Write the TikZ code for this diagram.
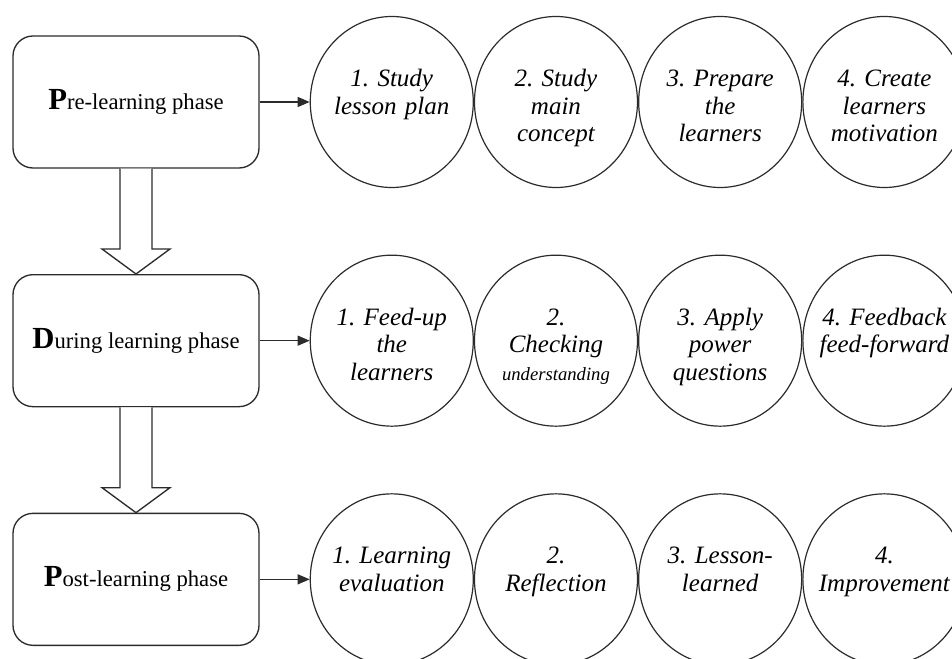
\documentclass[tikz,border=0pt]{standalone}
\usepackage{fontspec}
\setmainfont{Liberation Serif}
\usepackage{tikz}
\usetikzlibrary{arrows.meta,positioning,shapes.geometric,calc}
\definecolor{edge}{HTML}{2B2B2B}
\frenchspacing

% big bold first letter of a phase name
\newcommand{\phasehead}[1]{{\fontsize{23}{23}\selectfont\bfseries #1}}

\begin{document}
\begin{tikzpicture}[
    node distance=79pt and 37.5pt,
    phase/.style={draw=edge,line width=1pt,rounded corners=15pt,align=center,minimum height=99pt,minimum width=184.5pt,font=\fontsize{17}{20}\selectfont},
    stage/.style={draw=edge,line width=0.9pt,ellipse,inner sep=-10pt,text width=105pt,align=center,text height=14pt,text depth=37.2pt,minimum width=122.25pt,minimum height=128.25pt,font=\itshape\fontsize{18.75}{20.8}\selectfont},
    arr/.style={-{Triangle[length=9pt,width=7.5pt]},line width=0.9pt,draw=edge},
    hollow/.style={draw=edge,line width=1pt,fill=white,line join=miter}
]
    \useasboundingbox (0,0) rectangle (714pt,-494.25pt);

    \node[phase] (pre) at (102pt,-76.5pt) {\phasehead{P}re-learning phase};
    \node[phase,below=of pre] (dur) {\phasehead{D}uring learning phase};
    \node[phase,below=of dur] (post) {\phasehead{P}ost-learning phase};

    \node[stage,right=of pre] (pre1) {1. Study\\lesson plan};
    \node[stage,right=0pt of pre1] (pre2) {2. Study\\main\\concept};
    \node[stage,right=0pt of pre2] (pre3) {3. Prepare\\the\\learners};
    \node[stage,right=0pt of pre3] (pre4) {4. Create\\learners\\motivation};

    \node[stage,right=of dur] (dur1) {1. Feed-up\\the\\learners};
    \node[stage,right=0pt of dur1] (dur2) {2.\\Checking\\{\fontsize{14}{16}\selectfont understanding}};
    \node[stage,right=0pt of dur2] (dur3) {3. Apply\\power\\questions};
    \node[stage,right=0pt of dur3] (dur4) {4. Feedback\\feed-forward};

    \node[stage,right=of post] (post1) {1. Learning\\evaluation};
    \node[stage,right=0pt of post1] (post2) {2.\\Reflection};
    \node[stage,right=0pt of post2] (post3) {3. Lesson-\\learned};
    \node[stage,right=0pt of post3] (post4) {4.\\Improvement};

    \draw[arr] (pre) -- (pre1);
    \draw[arr] (dur) -- (dur1);
    \draw[arr] (post) -- (post1);

    % wide open arrows between the phases
    \draw[hollow] ($(pre.south)+(-12pt,0)$) -- ($(dur.north)+(-12pt,18.75pt)$) -- ($(dur.north)+(-25.5pt,18.75pt)$) -- (dur.north)
        -- ($(dur.north)+(25.5pt,18.75pt)$) -- ($(dur.north)+(12pt,18.75pt)$) -- ($(pre.south)+(12pt,0)$);
    \draw[hollow] ($(dur.south)+(-12pt,0)$) -- ($(post.north)+(-12pt,18.75pt)$) -- ($(post.north)+(-25.5pt,18.75pt)$) -- (post.north)
        -- ($(post.north)+(25.5pt,18.75pt)$) -- ($(post.north)+(12pt,18.75pt)$) -- ($(dur.south)+(12pt,0)$);
\end{tikzpicture}
\end{document}
